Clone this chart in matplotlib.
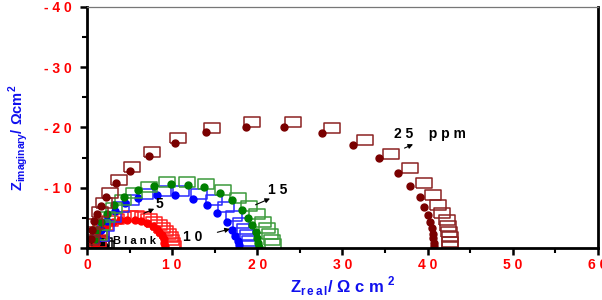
import matplotlib
matplotlib.use("Agg")
import matplotlib.pyplot as plt
from matplotlib.ticker import MultipleLocator, FuncFormatter

plt.rcParams['font.family'] = ['Liberation Sans', 'DejaVu Sans']
plt.rcParams['mathtext.fontset'] = 'custom'
plt.rcParams['mathtext.rm'] = 'Liberation Sans:bold'
plt.rcParams['mathtext.bf'] = 'Liberation Sans:bold'

# fitted curves (filled circles) and measured points (open rectangles), Z' and Z''
blank_fit_x = [0.4, 0.6, 1.0, 1.4, 1.8, 2.0, 2.1]
blank_fit_y = [-0.3, -0.7, -0.95, -1.0, -0.8, -0.4, -0.1]
blank_exp_x = [0.6, 0.9, 1.3, 1.7, 2.0, 2.2]
blank_exp_y = [-0.4, -0.8, -1.1, -1.1, -0.8, -0.3]

c5_fit_x = [1.0, 1.1, 1.4, 1.8, 2.4, 3.1, 3.9, 4.7, 5.6, 6.4, 7.1, 7.7, 8.2, 8.5, 8.8, 9.0, 9.1, 9.2]
c5_fit_y = [-0.8, -1.7, -2.6, -3.3, -3.9, -4.3, -4.6, -4.7, -4.7, -4.5, -4.2, -3.7, -3.2, -2.7, -2.1, -1.5, -0.9, -0.3]
c5_exp_x = [1.3, 1.4, 1.7, 2.1, 2.7, 3.4, 4.2, 5.0, 5.8, 6.6, 7.3, 7.9, 8.4, 8.8, 9.2, 9.5, 9.7, 9.9, 10.0, 10.1]
c5_exp_y = [-1.0, -2.0, -3.0, -3.8, -4.5, -4.9, -5.2, -5.3, -5.3, -5.1, -4.8, -4.4, -3.9, -3.4, -2.9, -2.4, -1.9, -1.4, -0.9, -0.4]

c10_fit_x = [1.2, 1.6, 2.3, 3.3, 4.5, 6.0, 8.2, 10.3, 12.4, 14.1, 15.3, 16.4, 17.0, 17.4, 17.7, 17.8]
c10_fit_y = [-1.5, -3.0, -4.5, -6.2, -7.5, -8.3, -8.8, -8.8, -8.1, -7.1, -5.8, -4.3, -3.0, -2.0, -1.2, -0.5]
c10_exp_x = [1.7, 2.2, 3.0, 4.0, 5.2, 6.8, 8.9, 11.1, 13.2, 14.9, 16.3, 17.3, 18.1, 18.6, 18.9, 19.1, 19.2]
c10_exp_y = [-2.0, -3.6, -5.2, -6.8, -8.0, -8.9, -9.5, -9.5, -9.0, -8.0, -6.8, -5.4, -4.2, -3.1, -2.1, -1.2, -0.4]

c15_fit_x = [0.9, 1.2, 1.7, 2.3, 3.2, 4.4, 6.0, 7.9, 9.9, 11.9, 13.8, 15.6, 17.0, 18.2, 18.9, 19.4, 19.8, 20.0, 20.1, 20.2]
c15_fit_y = [-1.5, -3.0, -4.4, -5.7, -7.2, -8.5, -9.6, -10.3, -10.6, -10.5, -10.1, -9.2, -7.9, -6.4, -5.0, -3.8, -2.7, -1.7, -0.8, -0.2]
c15_exp_x = [1.4, 1.8, 2.4, 3.2, 4.2, 5.5, 7.3, 9.4, 11.7, 14.0, 16.0, 17.7, 19.0, 20.0, 20.7, 21.2, 21.5, 21.7, 21.8]
c15_exp_y = [-2.2, -3.8, -5.2, -6.6, -8.0, -9.2, -10.2, -10.9, -11.0, -10.6, -9.6, -8.3, -6.9, -5.6, -4.4, -3.3, -2.3, -1.4, -0.6]

c25_fit_x = [0.5, 0.6, 0.8, 1.2, 1.6, 2.2, 3.4, 5.0, 7.3, 10.3, 14.0, 18.7, 23.2, 27.6, 31.3, 34.3, 36.5,
             38.0, 39.1, 39.6, 40.0, 40.3, 40.5, 40.6, 40.7, 40.8, 40.8]
c25_fit_y = [-1.5, -3.0, -4.5, -5.6, -7.0, -8.5, -10.8, -12.8, -15.3, -17.4, -19.3, -20.1, -20.1, -19.1, -17.1,
             -14.9, -12.5, -10.3, -8.5, -6.8, -5.5, -4.3, -3.3, -2.4, -1.6, -0.8, -0.3]
c25_exp_x = [0.5, 0.6, 0.9, 1.5, 2.0, 2.7, 3.8, 5.3, 7.6, 10.7, 14.7, 19.4, 24.2, 28.8, 32.7, 35.7, 37.9,
             39.6, 40.6, 41.2, 41.7, 42.3, 42.4, 42.5, 42.6, 42.6, 42.6]
c25_exp_y = [-1.3, -2.7, -4.0, -6.0, -7.5, -9.1, -11.3, -13.5, -15.9, -18.3, -19.9, -20.9, -20.9, -19.9, -17.9,
             -15.6, -13.3, -10.8, -8.8, -7.1, -5.8, -4.7, -3.7, -2.7, -1.8, -1.0, -0.3]

# wide open rectangle marker
rect = [(-1, -0.68), (1, -0.68), (1, 0.68), (-1, 0.68), (-1, -0.68)]

fig = plt.figure(figsize=(6.02, 3.0), dpi=100)
ax = fig.add_axes([0.1445, 0.173, 0.8485, 0.804])


def nyq(xe, ye, xf, yf, sq_col, dot_col):
    """open rectangles for data, filled dots for the fit"""
    ax.plot(xe, ye, linestyle='none', marker=rect, markersize=11, markerfacecolor='none',
            markeredgecolor=sq_col, markeredgewidth=1.1)
    ax.plot(xf, yf, linestyle='none', marker='o', markersize=5, color=dot_col)


nyq(blank_exp_x, blank_exp_y, blank_fit_x, blank_fit_y, 'black', 'black')
nyq(c5_exp_x, c5_exp_y, c5_fit_x, c5_fit_y, '#ff2020', '#ff0000')
nyq(c10_exp_x, c10_exp_y, c10_fit_x, c10_fit_y, '#2a2aff', '#0000ff')
nyq(c15_exp_x, c15_exp_y, c15_fit_x, c15_fit_y, '#3c9a3c', '#008000')
nyq(c25_exp_x, c25_exp_y, c25_fit_x, c25_fit_y, '#8b2222', '#7a0000')

ax.set_xlim(0, 60)
ax.set_ylim(0, -40)
ax.xaxis.set_major_locator(MultipleLocator(10))
ax.xaxis.set_minor_locator(MultipleLocator(5))
ax.yaxis.set_major_locator(MultipleLocator(10))
ax.yaxis.set_minor_locator(MultipleLocator(5))
spaced = FuncFormatter(lambda v, p: " ".join(str(int(round(v)))))
ax.xaxis.set_major_formatter(spaced)
ax.yaxis.set_major_formatter(spaced)
ax.tick_params(which='major', direction='out', length=5, width=1.8, colors='black',
               labelcolor='red', labelsize=10)
ax.tick_params(axis='x', which='major', pad=2)
ax.tick_params(axis='y', which='major', pad=6)
ax.tick_params(which='minor', direction='out', length=3.5, width=1.5)
for lab in ax.get_xticklabels() + ax.get_yticklabels():
    lab.set_fontweight('bold')

for s in ['left', 'bottom', 'right']:
    ax.spines[s].set_linewidth(2)
ax.spines['top'].set_linewidth(0.9)
ax.spines['top'].set_color('#777777')

# labels on the curves
ax.text(3.0, -1.1, "B l a n k", fontsize=8, fontweight='bold', va='center')
ax.text(8.0, -7.3, "5", fontsize=10, fontweight='bold', va='center')
ax.annotate("", xy=(8.2, -6.7), xytext=(6.4, -5.6),
            arrowprops=dict(arrowstyle='-|>', color='black', lw=0.8, mutation_scale=7))
ax.text(11.3, -1.8, "1 0", fontsize=10, fontweight='bold', va='center')
ax.annotate("", xy=(17.1, -3.3), xytext=(15.0, -2.5),
            arrowprops=dict(arrowstyle='-|>', color='black', lw=0.8, mutation_scale=7))
ax.text(21.3, -9.6, "1 5", fontsize=10, fontweight='bold', va='center')
ax.annotate("", xy=(21.8, -8.4), xytext=(19.5, -7.0),
            arrowprops=dict(arrowstyle='-|>', color='black', lw=0.8, mutation_scale=7))
ax.text(36.1, -19.0, "2 5    p p m", fontsize=10, fontweight='bold', va='center')
ax.annotate("", xy=(38.6, -17.4), xytext=(37.0, -16.4),
            arrowprops=dict(arrowstyle='-|>', color='black', lw=0.8, mutation_scale=7))

fig.text(0.57, 0.045, r"$\mathbf{Z}_{\mathbf{r\,e\,a\,l}}$/ $\mathbf{\Omega}$ c m $^{\mathbf{2}}$",
         color='#1010ee', fontsize=12, fontweight='bold', ha='center', va='center')
fig.text(0.03, 0.54, r"$\mathbf{Z}_{\mathbf{imaginary}}$/ $\mathbf{\Omega}$cm$^{\mathbf{2}}$",
         color='#1010ee', fontsize=10.5, fontweight='bold', ha='center', va='center', rotation=90)

fig.savefig("out.png", dpi=100)
